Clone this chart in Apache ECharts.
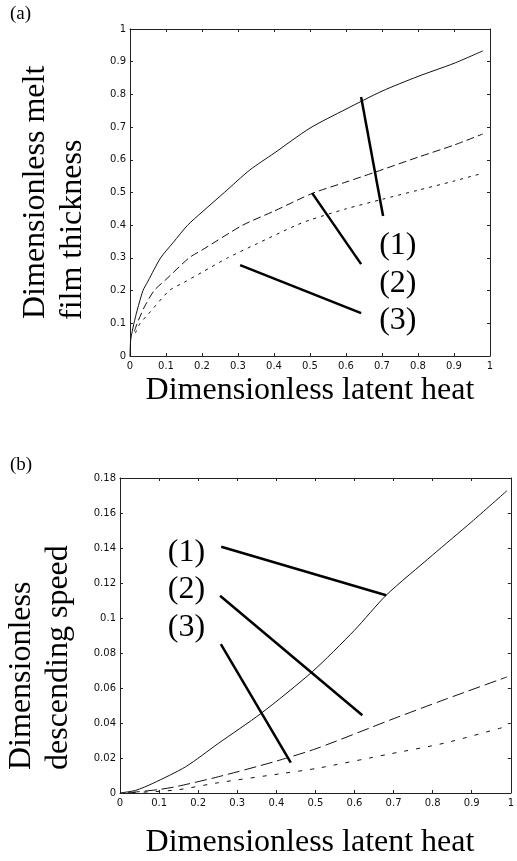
<!DOCTYPE html>
<html>
<head>
<meta charset="utf-8">
<script src="https://cdn.jsdelivr.net/npm/echarts@6/dist/echarts.min.js"></script>
<style>
  * { margin: 0; padding: 0; }
  body { background: #fff; }
  #main { width: 517px; height: 861px; }
</style>
</head>
<body>
<div id="main"></div>
<script>
// (a) melt film thickness vs latent heat
var a1X = [0, 0.002, 0.011, 0.02, 0.036, 0.05, 0.085, 0.12, 0.16, 0.2, 0.262, 0.333, 0.4, 0.5, 0.6, 0.7, 0.8, 0.9, 0.98];
var a1Y = [0, 0.05, 0.1, 0.14, 0.2, 0.229, 0.3, 0.347, 0.4, 0.44, 0.5, 0.569, 0.62, 0.697, 0.755, 0.81, 0.855, 0.895, 0.933];
var a2X = [0.012, 0.02, 0.04, 0.067, 0.1, 0.164, 0.2, 0.313, 0.4, 0.508, 0.6, 0.683, 0.8, 0.9, 0.98];
var a2Y = [0.075, 0.1, 0.15, 0.2, 0.234, 0.3, 0.324, 0.4, 0.443, 0.498, 0.532, 0.563, 0.608, 0.645, 0.679];
var a3X = [0.015, 0.028, 0.05, 0.109, 0.15, 0.2, 0.271, 0.35, 0.462, 0.5, 0.6, 0.7, 0.8, 0.9, 0.98];
var a3Y = [0.07, 0.1, 0.127, 0.2, 0.225, 0.256, 0.3, 0.342, 0.4, 0.416, 0.45, 0.479, 0.507, 0.535, 0.559];

// (b) descending speed vs latent heat
var b1X = [0, 0.04, 0.084, 0.168, 0.252, 0.361, 0.492, 0.6, 0.681, 0.8, 0.9, 0.99];
var b1Y = [0, 0.0015, 0.0055, 0.015, 0.0284, 0.0455, 0.0693, 0.093, 0.113, 0.136, 0.155, 0.1727];
var b2X = [0.02, 0.05, 0.1, 0.143, 0.252, 0.395, 0.504, 0.69, 0.832, 0.99];
var b2Y = [0.0002, 0.0008, 0.002, 0.0036, 0.0093, 0.0179, 0.0255, 0.0416, 0.0535, 0.0663];
var b3X = [0.03, 0.143, 0.252, 0.42, 0.504, 0.69, 0.832, 0.99];
var b3Y = [0.0002, 0.0017, 0.0059, 0.0113, 0.0141, 0.0223, 0.0286, 0.0381];

// pointer lines [x1, y1, x2, y2] and curve labels
var ptrA = [[0.642, 0.792, 0.703, 0.428], [0.506, 0.498, 0.642, 0.281], [0.306, 0.278, 0.642, 0.131]];
var ptrB = [[0.259, 0.1407, 0.681, 0.113], [0.256, 0.1127, 0.62, 0.0444], [0.258, 0.0851, 0.437, 0.0173]];
var curveNames = ['(1)', '(2)', '(3)'];
var labA = [[0.744, 0.339], [0.744, 0.222], [0.744, 0.108]];
var labB = [[0.170, 0.1373], [0.170, 0.116], [0.170, 0.0943]];

function zip(xs, ys) {
  return xs.map(function (x, i) { return [x, ys[i]]; });
}

var serif = "'Liberation Serif', 'Times New Roman', serif";
var sans = "'DejaVu Sans', Arial, sans-serif";

function mkAxis(type, pos, grid, min, max, step, labels) {
  return {
    type: 'value', position: pos, gridIndex: grid,
    min: min, max: max, interval: step,
    axisLine: { show: true, onZero: false, lineStyle: { color: '#222', width: 1 } },
    axisTick: { show: true, inside: true, length: 3, lineStyle: { color: '#222' } },
    axisLabel: { show: labels, color: '#111', fontSize: 10, fontFamily: sans, margin: type == 'x' ? 5 : 4 },
    splitLine: { show: false }
  };
}

function curve(xi, yi, data, dash) {
  return {
    type: 'line', xAxisIndex: xi, yAxisIndex: yi, data: data,
    showSymbol: false, symbol: 'none', smooth: 0.25,
    lineStyle: { color: '#111', width: 1, type: dash }
  };
}

var series = [
  curve(0, 0, zip(a1X, a1Y), 'solid'),
  curve(0, 0, zip(a2X, a2Y), [8, 4]),
  curve(0, 0, zip(a3X, a3Y), [3, 5]),
  curve(2, 2, zip(b1X, b1Y), 'solid'),
  curve(2, 2, zip(b2X, b2Y), [12, 5]),
  curve(2, 2, zip(b3X, b3Y), [4, 8])
];

ptrA.forEach(function (p) {
  series.push({ type: 'line', xAxisIndex: 0, yAxisIndex: 0, symbol: 'none',
    data: [[p[0], p[1]], [p[2], p[3]]], lineStyle: { color: '#000', width: 2.5 } });
});
ptrB.forEach(function (p) {
  series.push({ type: 'line', xAxisIndex: 2, yAxisIndex: 2, symbol: 'none',
    data: [[p[0], p[1]], [p[2], p[3]]], lineStyle: { color: '#000', width: 2.5 } });
});

function labels(xi, yi, pos) {
  return {
    type: 'scatter', xAxisIndex: xi, yAxisIndex: yi, symbolSize: 0,
    itemStyle: { color: '#000' },
    data: pos.map(function (p, i) { return { name: curveNames[i], value: p }; }),
    label: { show: true, position: 'inside', formatter: '{b}', color: '#000', opacity: 1,
      textBorderWidth: 0, fontSize: 32, fontFamily: serif }
  };
}
series.push(labels(0, 0, labA));
series.push(labels(2, 2, labB));

var chart = echarts.init(document.getElementById('main'));
chart.setOption({
  animation: false,
  backgroundColor: '#fff',
  grid: [
    { left: 130, right: 27, top: 29, bottom: 505 },
    { left: 120, right: 1, top: 478, bottom: 68 }
  ],
  xAxis: [
    mkAxis('x', 'bottom', 0, 0, 1, 0.1, true),
    mkAxis('x', 'top', 0, 0, 1, 0.1, false),
    mkAxis('x', 'bottom', 1, 0, 1, 0.1, true),
    mkAxis('x', 'top', 1, 0, 1, 0.1, false)
  ],
  yAxis: [
    mkAxis('y', 'left', 0, 0, 1, 0.1, true),
    mkAxis('y', 'right', 0, 0, 1, 0.1, false),
    mkAxis('y', 'left', 1, 0, 0.18, 0.02, true),
    mkAxis('y', 'right', 1, 0, 0.18, 0.02, false)
  ],
  series: series,
  graphic: [
    { type: 'text', left: 10, top: 5, style: { text: '(a)', font: '19px ' + serif, fill: '#000' } },
    { type: 'text', left: 10, top: 456, style: { text: '(b)', font: '19px ' + serif, fill: '#000' } },
    { type: 'text', x: 310, y: 391, style: { text: 'Dimensionless latent heat', font: '32px ' + serif, fill: '#000', textAlign: 'center', textVerticalAlign: 'middle' } },
    { type: 'text', x: 310, y: 843, style: { text: 'Dimensionless latent heat', font: '32px ' + serif, fill: '#000', textAlign: 'center', textVerticalAlign: 'middle' } },
    { type: 'text', x: 36, y: 319, rotation: Math.PI / 2, style: { text: 'Dimensionless melt', font: '32px ' + serif, fill: '#000', textAlign: 'left', textVerticalAlign: 'middle' } },
    { type: 'text', x: 73, y: 320, rotation: Math.PI / 2, style: { text: 'film thickness', font: '32px ' + serif, fill: '#000', textAlign: 'left', textVerticalAlign: 'middle' } },
    { type: 'text', x: 22, y: 770, rotation: Math.PI / 2, style: { text: 'Dimensionless', font: '32px ' + serif, fill: '#000', textAlign: 'left', textVerticalAlign: 'middle' } },
    { type: 'text', x: 59, y: 770, rotation: Math.PI / 2, style: { text: 'descending speed', font: '32px ' + serif, fill: '#000', textAlign: 'left', textVerticalAlign: 'middle' } }
  ]
});
</script>
</body>
</html>
